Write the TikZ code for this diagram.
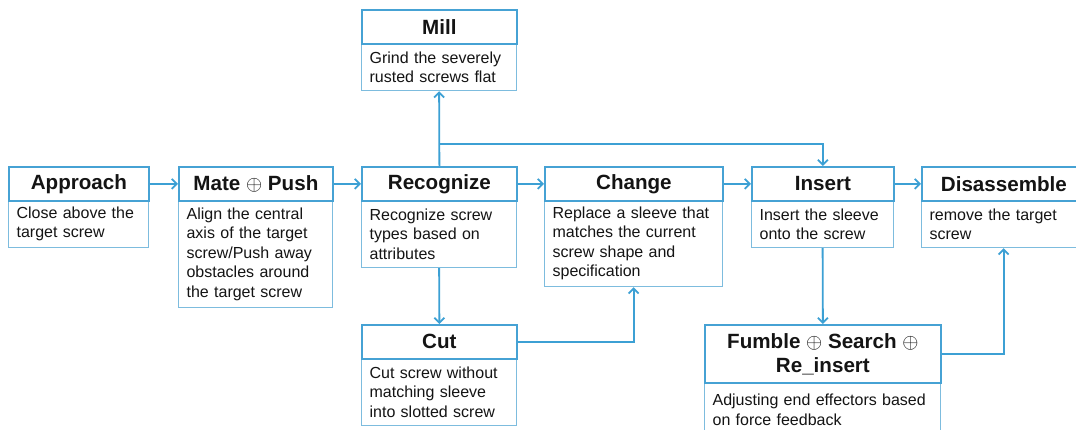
\documentclass[tikz,border=0pt]{standalone}
\usepackage{fontspec}
\setmainfont{Liberation Sans}
\usetikzlibrary{arrows.meta}
\definecolor{tblue}{RGB}{70,162,212}
\definecolor{dblue}{RGB}{125,188,222}
\definecolor{ablue}{RGB}{60,160,212}
\definecolor{txt}{RGB}{20,20,20}
\begin{document}
\begin{tikzpicture}[x=1pt,y=-1pt,
  title/.style={draw=tblue, line width=1.8pt, anchor=north west, minimum height=34pt, inner sep=0pt,
    font=\bfseries\fontsize{20.6}{24}\selectfont, text=txt, align=center},
  desc/.style={draw=dblue, line width=1.2pt, anchor=north west, inner xsep=8pt, inner ysep=6pt,
    font=\fontsize{16}{19.5}\selectfont, text=txt, align=left},
  arr/.style={draw=ablue, line width=1.8pt, -{Straight Barb[length=5pt,width=10pt]}}]
\clip (0,0) rectangle (1076,430);
\fill[white] (0,0) rectangle (1076,430);

% description boxes
\node[desc, minimum width=140, text width=124, minimum height=47] (appD) at (8,200) {Close above the\\target screw};
\node[desc, minimum width=154, text width=138, minimum height=107] (mateD) at (178,200) {Align the central\\axis of the target\\screw/Push away\\obstacles around\\the target screw};
\node[desc, minimum width=155, text width=139, minimum height=67] (recD) at (361,200) {Recognize screw\\types based on\\attributes};
\node[desc, minimum width=178, text width=162, minimum height=86] (chD) at (544,200) {Replace a sleeve that\\matches the current\\screw shape and\\specification};
\node[desc, minimum width=142, text width=126, minimum height=47] (insD) at (751,200) {Insert the sleeve\\onto the screw};
\node[desc, minimum width=164, text width=148, minimum height=47] (disD) at (921,200) {remove the target\\screw};
\node[desc, minimum width=155, text width=139, minimum height=47] (millD) at (361,43) {Grind the severely\\rusted screws flat};
\node[desc, minimum width=155, text width=139, minimum height=67] (cutD) at (361,358) {Cut screw without\\matching sleeve\\into slotted screw};
\node[desc, minimum width=236, text width=220, minimum height=54] (fumD) at (704,382) {Adjusting end effectors based\\on force feedback};

% title boxes
\node[title, minimum width=140] (appT) at (8,166) {Approach};
\node[title, minimum width=154] (mateT) at (178,166) {Mate $\oplus$ Push};
\node[title, minimum width=155] (recT) at (361,166) {Recognize};
\node[title, minimum width=178] (chT) at (544,166) {Change};
\node[title, minimum width=142] (insT) at (751,166) {Insert};
\node[title, minimum width=164] (disT) at (921,166) {Disassemble};
\node[title, minimum width=155] (millT) at (361,9) {Mill};
\node[title, minimum width=155] (cutT) at (361,324) {Cut};
\node[title, minimum width=236, minimum height=58] (fumT) at (704,324) {Fumble $\oplus$ Search $\oplus$\\Re\_insert};

% connectors
\draw[arr] (appT) -- (mateT);
\draw[arr] (mateT) -- (recT);
\draw[arr] (recT) -- (chT);
\draw[arr] (chT) -- (insT);
\draw[arr] (insT) -- (disT);
\draw[arr] (recT.north) -- (millD.south);
\draw[arr] (recT.north) -- ++(0,-22) -| (insT.north);
\draw[arr] (recD.south) -- (cutT.north);
\draw[arr] (cutT.east) -| (chD.south);
\draw[arr] (insD.south) -- (fumT.north);
\draw[arr] (fumT.east) -| (disD.south);
\end{tikzpicture}
\end{document}
